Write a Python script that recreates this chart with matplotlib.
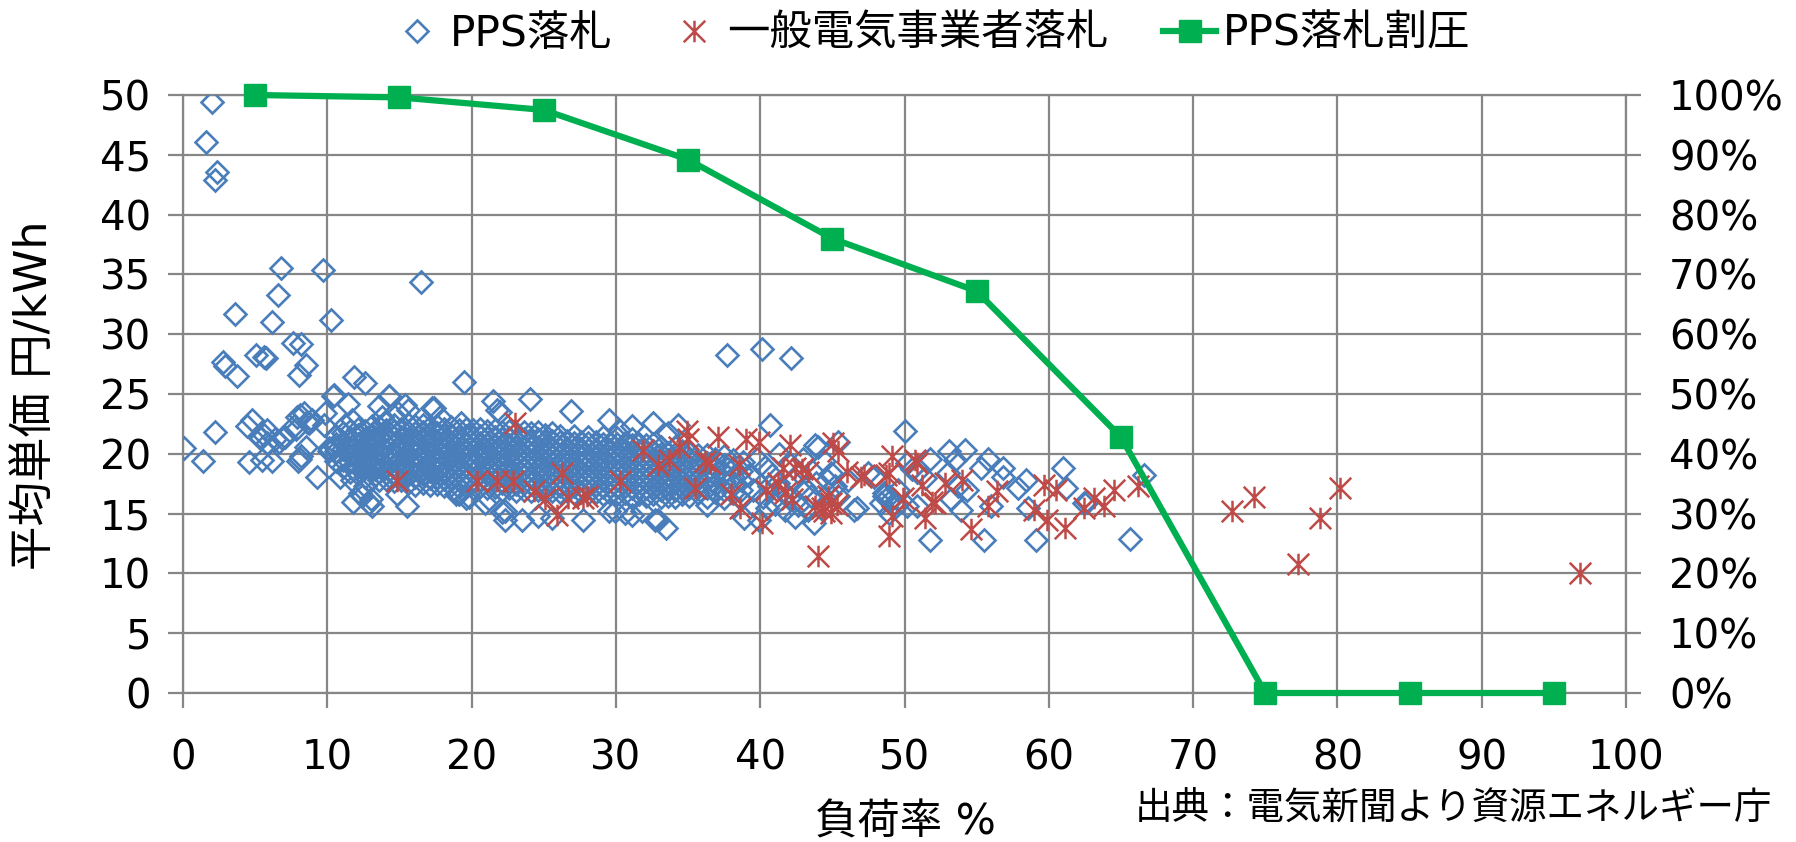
import matplotlib
matplotlib.use("Agg")
import matplotlib.pyplot as plt
from matplotlib.path import Path
from matplotlib.lines import Line2D
from matplotlib.ticker import FuncFormatter

plt.rcParams['font.family'] = ['DejaVu Sans', 'Noto Sans CJK JP']

# PPS落札: scattered points
pps_x = [1.99, 1.59, 2.38, 2.19, 6.78, 9.67, 16.5, 6.55, 3.6, 6.16, 10.24, 7.6, 8.2,
         2.77, 2.9, 3.76, 5.03, 5.6, 5.72, 8.53, 8.03, 11.86, 12.64, 19.45,
         37.7, 40.1, 42.1,
         0.07, 1.38, 2.19, 4.45, 4.8, 4.57, 5.26, 5.6, 5.83, 5.49, 6.18, 6.4, 6.87, 7.1,
         7.8, 8.1, 8.6, 8.95, 8.1, 8.0, 8.5, 9.3, 9.76, 10.1, 10.4, 11.4, 10.9, 11.7,
         11.8, 12.4, 12.9, 13.0, 14.26, 15.5, 5.4, 5.83, 6.64, 7.9, 8.37, 8.7, 7.7, 8.15,
         9.87, 10.45, 11.7, 11.26, 10.55, 10.1, 12.3, 12.6, 13.3, 13.1, 13.6, 14.3, 13.8,
         15.4, 14.9, 15.6, 14.8, 17.4, 19.3, 19.1,
         21.5, 21.75, 24.05, 17.25, 17.8, 26.9, 21.97, 29.5, 31.1, 32.6, 33.6, 30.2, 34.3,
         40.7, 43.8, 45.4,
         19.8, 20.9, 22.1, 22.3, 23.5, 18.9, 19.6, 21.2, 22.3, 24.6, 25.6, 27.75, 29.5,
         30.6, 31.8, 32.9, 33.5, 29.95, 31.1, 32.7, 36.3, 38.9, 39.9, 43.7, 46.7,
         48.6, 49.1, 48.9, 49.4, 44.0, 44.4, 44.9, 44.6, 45.2, 45.4, 44.7, 46.1, 46.5,
         47.5, 47.9, 48.6, 48.95, 49.3, 48.4, 49.55, 50.0, 50.2, 50.5, 50.9, 51.8, 51.4,
         50.2, 51.8, 50.9, 53.1, 54.2, 53.5, 53.7, 53.0, 54.3, 53.25, 53.9, 55.3, 55.8,
         55.5, 56.8, 56.8, 56.0, 57.85, 58.4, 58.55, 59.1, 60.95, 61.2, 62.45, 62.65,
         65.6, 66.6,
         39.8, 40.3, 40.8, 41.2, 41.6, 42.0, 42.3, 42.7, 43.1, 43.5, 43.9, 41.0, 41.7,
         42.6, 43.3, 40.2, 40.6, 39.5, 39.2, 38.8, 42.0, 43.0, 41.3, 40.5, 42.4]
pps_y = [49.4, 46.1, 43.6, 42.9, 35.5, 35.4, 34.4, 33.3, 31.7, 31.0, 31.2, 29.3, 29.2,
         27.7, 27.3, 26.5, 28.3, 28.1, 28.0, 27.4, 26.6, 26.4, 25.9, 26.0,
         28.25, 28.8, 28.0,
         20.5, 19.4, 21.8, 22.3, 22.8, 19.3, 21.4, 21.6, 20.9, 19.5, 19.4, 21.2, 21.3, 21.4,
         22.1, 23.25, 22.7, 22.8, 19.6, 19.4, 20.6, 18.1, 22.4, 20.5, 24.8, 24.2, 18.1, 17.8,
         16.0, 16.45, 15.9, 16.2, 24.8, 15.6, 21.3, 22.0, 21.0, 23.1, 23.4, 22.6, 22.3, 19.8,
         23.4, 24.9, 22.8, 22.4, 20.6, 20.2, 16.7, 17.3, 18.7, 15.6, 24.0, 24.8, 23.1,
         24.1, 23.4, 23.7, 16.6, 23.8, 22.6, 16.6,
         24.4, 23.7, 24.6, 23.8, 23.1, 23.6, 23.5, 22.8, 22.3, 22.6, 21.7, 22.0, 22.4,
         22.4, 20.75, 21.0,
         16.4, 15.9, 15.1, 14.5, 14.5, 16.6, 16.3, 16.2, 15.2, 14.8, 14.6, 14.5, 15.2,
         15.05, 15.2, 14.5, 13.8, 15.2, 14.9, 14.5, 15.75, 14.6, 14.5, 14.2, 15.5,
         16.45, 16.2, 15.05, 15.6, 20.6, 19.4, 18.4, 17.8, 17.3, 16.45, 16.7, 17.8, 15.3,
         18.4, 18.1, 16.7, 16.45, 15.9, 15.9, 17.0, 21.9, 19.2, 18.7, 18.5, 19.6, 18.0,
         15.6, 12.8, 15.6, 20.2, 20.3, 19.5, 17.3, 18.4, 17.0, 16.2, 15.3, 18.8, 19.6,
         12.8, 18.8, 18.1, 15.6, 17.1, 17.8, 15.5, 12.8, 18.8, 17.1, 15.9, 16.0,
         12.9, 18.25,
         19.6, 18.9, 18.2, 17.6, 16.9, 16.3, 17.7, 18.4, 17.1, 16.5, 17.6, 15.8, 15.3,
         15.7, 15.3, 16.4, 17.3, 17.0, 18.2, 19.3, 19.2, 19.6, 20.0, 15.5, 14.7]

# PPS落札: the dense band, one column of values per load factor
core_x = [10.6, 11.1, 11.6, 12.1, 12.6, 13.1, 13.6, 14.1, 14.6, 15.1, 15.6, 16.1, 16.6,
          17.1, 17.6, 18.1, 18.6, 19.1, 19.6, 20.1, 20.6, 21.1, 21.6, 22.1, 22.6, 23.1,
          23.6, 24.1, 24.6, 25.1, 25.6, 26.1, 26.6, 27.1, 27.6, 28.1, 28.6, 29.1, 29.6,
          30.1, 30.6, 31.1, 31.6, 32.1, 32.6, 33.1, 33.6, 34.1, 34.6, 35.1, 35.7, 36.3,
          36.9, 37.5, 38.1, 38.7]
core_y = [
    [19.4, 20.2, 20.8, 21.5],
    [18.9, 19.5, 20.4, 21.0, 21.7],
    [18.5, 19.3, 19.9, 20.5, 21.3, 21.9],
    [18.3, 18.9, 19.7, 20.2, 20.8, 21.6, 22.1],
    [18.1, 18.8, 19.4, 20.1, 20.7, 21.2, 21.9],
    [18.0, 18.7, 19.2, 19.8, 20.5, 21.1, 21.6, 22.3],
    [17.8, 18.5, 19.1, 19.6, 20.3, 20.9, 21.5, 22.2],
    [17.9, 18.4, 19.0, 19.7, 20.2, 20.8, 21.3, 22.0, 22.6],
    [17.7, 18.2, 18.9, 19.5, 20.0, 20.7, 21.4, 21.9, 22.4],
    [17.8, 18.5, 19.0, 19.6, 20.3, 20.8, 21.4, 22.1],
    [17.6, 18.2, 18.7, 19.4, 20.0, 20.6, 21.2, 21.8, 22.5],
    [17.4, 18.1, 18.8, 19.3, 19.9, 20.5, 21.0, 21.7, 22.3],
    [17.6, 18.3, 18.8, 19.5, 20.1, 20.6, 21.3, 21.8, 22.4],
    [17.4, 18.0, 18.6, 19.1, 19.8, 20.4, 20.9, 21.6, 22.2],
    [17.5, 18.1, 18.7, 19.3, 19.8, 20.5, 21.1, 21.7, 22.3],
    [17.3, 17.9, 18.4, 19.1, 19.7, 20.3, 20.8, 21.5, 22.1],
    [17.4, 18.0, 18.6, 19.2, 19.9, 20.4, 21.0, 21.6, 22.2],
    [17.2, 17.8, 18.5, 19.0, 19.6, 20.1, 20.8, 21.4, 22.0],
    [17.3, 17.9, 18.4, 19.1, 19.7, 20.3, 20.9, 21.5, 22.1],
    [17.1, 17.8, 18.4, 19.0, 19.5, 20.2, 20.8, 21.3, 22.0],
    [17.3, 17.9, 18.5, 19.1, 19.8, 20.3, 20.9, 21.5, 22.1],
    [17.1, 17.7, 18.3, 18.8, 19.5, 20.1, 20.7, 21.3, 21.9],
    [17.2, 17.8, 18.4, 19.0, 19.6, 20.2, 20.7, 21.4, 22.0],
    [17.0, 17.6, 18.2, 18.9, 19.4, 20.0, 20.6, 21.2, 21.8],
    [17.1, 17.7, 18.3, 18.9, 19.5, 20.1, 20.7, 21.3, 21.9],
    [16.9, 17.5, 18.1, 18.7, 19.3, 19.8, 20.5, 21.1, 21.7],
    [17.0, 17.6, 18.2, 18.8, 19.4, 20.0, 20.6, 21.2, 21.8],
    [16.9, 17.5, 18.0, 18.7, 19.3, 19.9, 20.5, 21.0, 21.7],
    [17.0, 17.6, 18.2, 18.8, 19.4, 20.0, 20.6, 21.2, 21.8],
    [16.8, 17.4, 18.0, 18.6, 19.2, 19.8, 20.3, 21.0, 21.6],
    [16.9, 17.5, 18.1, 18.7, 19.3, 19.9, 20.5, 21.1, 21.7],
    [16.8, 17.3, 18.0, 18.6, 19.1, 19.8, 20.4, 21.0, 21.5],
    [16.9, 17.5, 18.1, 18.7, 19.3, 19.9, 20.5, 21.1],
    [16.7, 17.3, 17.9, 18.5, 19.1, 19.7, 20.3, 20.9, 21.5],
    [16.8, 17.4, 18.0, 18.6, 19.2, 19.8, 20.4, 21.0],
    [16.7, 17.3, 17.8, 18.5, 19.1, 19.6, 20.3, 20.9, 21.4],
    [16.8, 17.4, 18.0, 18.6, 19.2, 19.8, 20.4, 21.0],
    [16.6, 17.2, 17.8, 18.4, 19.0, 19.6, 20.2, 20.8, 21.4],
    [16.7, 17.3, 17.9, 18.5, 19.1, 19.7, 20.3, 20.9],
    [16.6, 17.2, 17.8, 18.4, 19.0, 19.6, 20.1, 20.8, 21.3],
    [16.7, 17.3, 17.9, 18.5, 19.1, 19.7, 20.3, 20.9],
    [16.5, 17.1, 17.7, 18.3, 18.9, 19.5, 20.1, 20.7, 21.2],
    [16.6, 17.2, 17.8, 18.4, 19.0, 19.6, 20.2, 20.8],
    [16.5, 17.1, 17.7, 18.3, 18.9, 19.5, 20.1, 20.7],
    [16.6, 17.2, 17.8, 18.4, 19.0, 19.6, 20.2, 20.8],
    [16.4, 17.0, 17.6, 18.2, 18.8, 19.4, 20.0, 20.6],
    [16.5, 17.1, 17.7, 18.3, 18.9, 19.5, 20.1],
    [16.4, 17.0, 17.6, 18.2, 18.8, 19.4, 20.0, 20.6],
    [16.6, 17.2, 17.8, 18.4, 19.0, 19.6, 20.2],
    [16.5, 17.1, 17.7, 18.3, 18.9, 19.5, 20.1],
    [16.7, 17.4, 18.0, 18.7, 19.3, 19.9],
    [16.4, 17.1, 17.8, 18.5, 19.2, 19.9],
    [16.8, 17.5, 18.2, 18.9, 19.6],
    [16.3, 17.0, 17.7, 18.4, 19.1, 19.8],
    [16.7, 17.4, 18.1, 18.8, 19.5],
    [16.2, 17.0, 17.8, 18.6],
]

# 一般電気事業者落札
gen_x = [14.8, 20.4, 21.75, 22.9, 23.0, 24.3, 25.1, 25.9, 26.25, 26.7, 27.75, 28.0, 30.3,
         31.9, 32.9, 33.7, 34.4, 34.9, 35.0, 35.5, 36.2, 36.5, 37.1, 38.5, 38.0, 38.6,
         39.05, 39.9, 40.1, 40.4, 41.25, 42.05, 41.6, 42.4, 42.9, 43.3, 41.7, 42.2,
         43.8, 44.25, 44.7, 45.3, 44.9, 44.4, 44.9, 45.05, 45.4, 46.0, 47.0, 47.2, 48.7,
         44.0, 49.1, 48.9, 49.1, 48.9, 49.9, 50.7, 50.9, 51.2, 51.9, 52.1, 52.8, 51.4,
         54.0, 54.6, 55.8, 56.4, 59.0, 59.7, 59.9, 60.5, 61.1, 62.45, 63.15, 63.8, 64.5,
         66.2, 72.7, 74.2, 77.3, 78.8, 80.2, 96.8]
gen_y = [17.7, 17.7, 17.7, 17.7, 22.6, 16.9, 16.2, 14.9, 18.4, 16.3, 16.3, 16.45, 17.7,
         20.3, 19.1, 19.5, 20.6, 21.9, 21.2, 17.1, 19.4, 19.2, 21.4, 19.1, 16.6, 15.5,
         21.2, 21.0, 14.2, 17.0, 17.6, 20.75, 18.8, 18.8, 18.7, 18.5, 16.7, 16.2,
         15.6, 15.5, 16.45, 15.75, 15.05, 15.2, 15.9, 20.9, 20.2, 18.5, 18.1, 18.25, 18.25,
         11.45, 19.8, 18.4, 14.8, 13.1, 16.3, 19.5, 19.2, 17.4, 16.0, 15.9, 17.55, 14.65,
         17.8, 13.7, 15.6, 16.9, 15.3, 17.4, 14.5, 17.0, 13.8, 15.5, 16.3, 15.6, 17.0,
         17.3, 15.2, 16.4, 10.75, 14.65, 17.1, 10.0]

# PPS落札割圧 (右軸 %)
share_x = [5, 15, 25, 35, 45, 55, 65, 75, 85, 95]
share_pct = [100, 99.6, 97.5, 89.2, 76.0, 67.2, 42.8, 0, 0, 0]

BLUE = '#4a7ebb'
RED = '#be4b48'
GREEN = '#00b050'
GRID = '#868686'
FS_TICK = 29
FS_TITLE = 30.5
FS_SRC = 27

# asterisk = X + vertical bar
star = Path([(0, -1), (0, 1), (-1, -1), (1, 1), (-1, 1), (1, -1)],
            [Path.MOVETO, Path.LINETO, Path.MOVETO, Path.LINETO, Path.MOVETO, Path.LINETO])

all_x = list(pps_x)
all_y = list(pps_y)
for cx, ys in zip(core_x, core_y):
    all_x += [cx] * len(ys)
    all_y += ys

fig = plt.figure(figsize=(17.96, 8.42), dpi=100)
ax = fig.add_axes([183 / 1796, 1 - 693 / 842, (1626 - 183) / 1796, (693 - 95) / 842])

ax.plot(all_x, all_y, ls='none', marker='D', ms=10.8, mfc='none', mec=BLUE, mew=1.9, zorder=3)
ax.plot(gen_x, gen_y, ls='none', marker=star, ms=15.5, mec=RED, mew=1.8, zorder=4)

ax.set_xlim(0, 100)
ax.set_ylim(0, 50)
ax.set_xticks(range(0, 101, 10))
ax.set_yticks(range(0, 51, 5))
ax.grid(True, color=GRID, lw=1.6, zorder=0)
ax.set_axisbelow(True)
for s in ax.spines.values():
    s.set_color(GRID)
    s.set_linewidth(1.6)
ax.tick_params(axis='both', direction='out', length=11, width=1.6, color=GRID,
               labelsize=FS_TICK, pad=12)
ax.tick_params(axis='x', pad=22)

ax2 = ax.twinx()
ax2.plot(share_x, share_pct, color=GREEN, lw=4.5, marker='s', ms=16, zorder=5, clip_on=False)
ax2.set_ylim(0, 100)
ax2.set_yticks(range(0, 101, 10))
ax2.yaxis.set_major_formatter(FuncFormatter(lambda v, p: f'{v:.0f}%'))
for s in ax2.spines.values():
    s.set_visible(False)
ax2.tick_params(axis='y', direction='out', length=11, width=1.6, color=GRID,
                labelsize=FS_TICK, pad=20)

fig.text(0.019, 0.531, '平均単価 円/kWh', rotation=90, ha='center', va='center', fontsize=32)
fig.text(905 / 1796, 1 - 822 / 842, '負荷率 %', ha='center', va='center', fontsize=FS_TITLE)
fig.text(1772 / 1796, 1 - 810 / 842, '出典：電気新聞より資源エネルギー庁',
         ha='right', va='center', fontsize=FS_SRC)

handles = [
    Line2D([], [], ls='none', marker='D', ms=10.8, mfc='none', mec=BLUE, mew=1.9),
    Line2D([], [], ls='none', marker=star, ms=15.5, mec=RED, mew=1.8),
    Line2D([], [], color=GREEN, lw=4.5, marker='s', ms=16),
]
fig.legend(handles, ['PPS落札', '一般電気事業者落札', 'PPS落札割圧'], loc='center',
           bbox_to_anchor=(0.518, 0.96), ncol=3, frameon=False, fontsize=FS_TITLE,
           handlelength=1.25, handletextpad=0.15, columnspacing=1.3)

fig.savefig('out.png', dpi=100)
